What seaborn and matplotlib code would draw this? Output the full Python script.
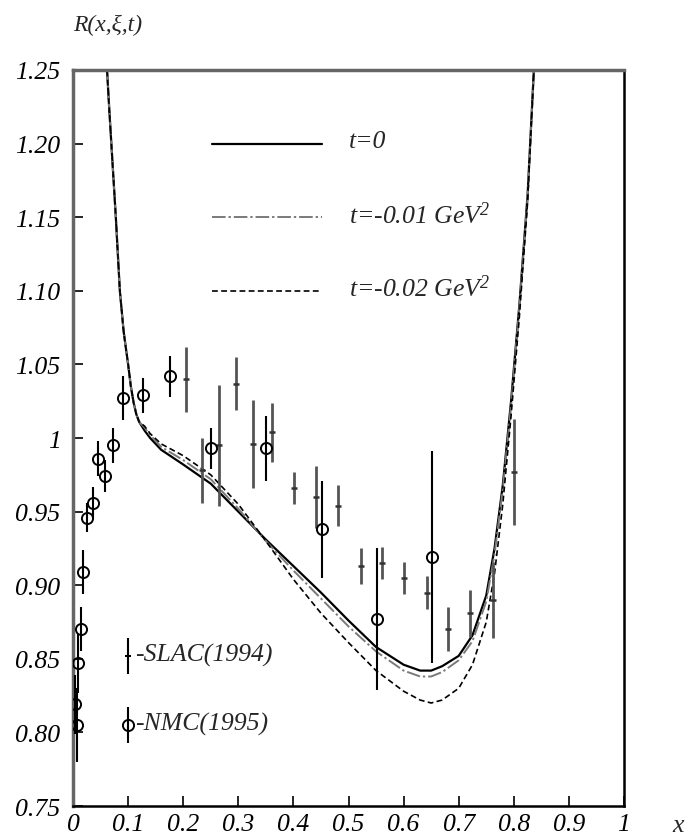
import matplotlib
matplotlib.use("Agg")
import matplotlib.pyplot as plt
import numpy as np
import pandas as pd
import seaborn as sns

# ---- model curves R(x, xi, t) ----
x_curve = [0.060, 0.066, 0.072, 0.078, 0.085, 0.092, 0.100, 0.105, 0.110, 0.115,
           0.120, 0.130, 0.140, 0.160, 0.200, 0.250, 0.300, 0.350, 0.400, 0.450,
           0.500, 0.550, 0.600, 0.630, 0.650, 0.670, 0.700, 0.725, 0.750, 0.765,
           0.780, 0.795, 0.810, 0.825, 0.838]
R_t0 = [1.262, 1.222, 1.185, 1.148, 1.100, 1.072, 1.050, 1.035, 1.024, 1.016,
        1.011, 1.005, 1.000, 0.992, 0.982, 0.969, 0.950, 0.931, 0.913, 0.895,
        0.876, 0.858, 0.846, 0.842, 0.842, 0.845, 0.852, 0.866, 0.893, 0.925,
        0.968, 1.025, 1.090, 1.165, 1.262]
R_t001 = [1.262, 1.222, 1.185, 1.148, 1.100, 1.072, 1.050, 1.035, 1.024, 1.016,
          1.011, 1.007, 1.002, 0.994, 0.985, 0.972, 0.952, 0.930, 0.910, 0.891,
          0.872, 0.855, 0.842, 0.838, 0.838, 0.841, 0.849, 0.862, 0.889, 0.921,
          0.965, 1.022, 1.088, 1.163, 1.262]
R_t002 = [1.262, 1.222, 1.185, 1.148, 1.100, 1.072, 1.050, 1.035, 1.024, 1.016,
          1.011, 1.008, 1.003, 0.996, 0.988, 0.975, 0.955, 0.930, 0.904, 0.881,
          0.861, 0.842, 0.828, 0.822, 0.820, 0.822, 0.830, 0.846, 0.875, 0.908,
          0.955, 1.015, 1.082, 1.160, 1.262]

# ---- SLAC (1994) ----
slac_x = [0.205, 0.235, 0.265, 0.296, 0.327, 0.362, 0.401, 0.441, 0.481, 0.523,
          0.561, 0.600, 0.643, 0.681, 0.720, 0.762, 0.800]
slac_R = [1.040, 0.978, 0.995, 1.037, 0.996, 1.004, 0.966, 0.960, 0.954, 0.913,
          0.915, 0.905, 0.895, 0.870, 0.881, 0.890, 0.977]
slac_err = [0.022, 0.022, 0.041, 0.018, 0.030, 0.020, 0.011, 0.021, 0.014, 0.012,
            0.011, 0.011, 0.011, 0.015, 0.016, 0.026, 0.036]

# ---- NMC (1995) ----
nmc_x = [0.008, 0.004, 0.009, 0.014, 0.018, 0.025, 0.037, 0.046, 0.058, 0.072,
         0.090, 0.127, 0.176, 0.250, 0.350, 0.452, 0.551, 0.651]
nmc_R = [0.805, 0.819, 0.847, 0.870, 0.909, 0.946, 0.956, 0.986, 0.974, 0.995,
         1.027, 1.029, 1.042, 0.993, 0.993, 0.938, 0.877, 0.919]
nmc_err = [0.025, 0.020, 0.020, 0.015, 0.015, 0.010, 0.011, 0.012, 0.011, 0.012,
           0.015, 0.012, 0.014, 0.014, 0.022, 0.033, 0.048, 0.072]

y_ticks = [0.75, 0.80, 0.85, 0.90, 0.95, 1.00, 1.05, 1.10, 1.15, 1.20, 1.25]
y_ticklabels = ["0.75", "0.80", "0.85", "0.90", "0.95", "1", "1.05", "1.10",
                "1.15", "1.20", "1.25"]
x_ticks = [0, 0.1, 0.2, 0.3, 0.4, 0.5, 0.6, 0.7, 0.8, 0.9, 1.0]
x_ticklabels = ["0", "0.1", "0.2", "0.3", "0.4", "0.5", "0.6", "0.7", "0.8",
                "0.9", "1"]

curve_labels = ["t=0", "t=-0.01 GeV$^{2}$", "t=-0.02 GeV$^{2}$"]

FS = 18.5

sns.set_theme(style="ticks")
plt.rcParams["font.family"] = ["Liberation Serif", "DejaVu Serif"]
plt.rcParams["font.style"] = "italic"
plt.rcParams["mathtext.fontset"] = "custom"
plt.rcParams["mathtext.rm"] = "Liberation Serif:italic"
plt.rcParams["mathtext.it"] = "Liberation Serif:italic"

fig = plt.figure(figsize=(6.98, 8.37), dpi=100)
ax = fig.add_axes([0.1046, 0.0358, 0.7894, 0.8794])

df = pd.DataFrame({"x": x_curve, "t0": R_t0, "t1": R_t001, "t2": R_t002})

styles = [
    ("t0", "black", 1.6, "-"),
    ("t1", "#7a7a7a", 1.4, (0, (7, 1.5, 1.2, 1.5))),
    ("t2", "black", 1.2, (0, (3.5, 2.0))),
]
for col, color, lw, ls in styles:
    sns.lineplot(data=df, x="x", y=col, ax=ax, color=color, linewidth=lw,
                 linestyle=ls, sort=False, estimator=None)

# experimental points
ax.errorbar(slac_x, slac_R, yerr=slac_err, fmt="_", color="#333333",
            ecolor="#555555", elinewidth=2.0, markersize=5, mew=1.8,
            capsize=0, zorder=4)
ax.errorbar(nmc_x, nmc_R, yerr=nmc_err, fmt="o", mfc="none", mec="black",
            ecolor="black", elinewidth=1.5, markersize=8, mew=1.4,
            capsize=0, zorder=5)

# legend for the model curves
key_x = [0.252, 0.452]
for (col, color, lw, ls), label, yk in zip(styles, curve_labels,
                                          [1.20, 1.15, 1.10]):
    ax.plot(key_x, [yk, yk], color=color, linewidth=lw, linestyle=ls)
    ax.text(0.50, yk + 0.002, label, fontsize=FS, va="center", ha="left")

# legend for the data
ax.errorbar([0.1], [0.852], yerr=[0.012], fmt="_", color="black",
            ecolor="black", elinewidth=1.5, markersize=5, mew=1.5, capsize=0)
ax.text(0.113, 0.853, "-SLAC(1994)", fontsize=FS, va="center", ha="left")
ax.errorbar([0.1], [0.805], yerr=[0.012], fmt="o", mfc="none", mec="black",
            ecolor="black", elinewidth=1.5, markersize=8, mew=1.4, capsize=0)
ax.text(0.113, 0.806, "-NMC(1995)", fontsize=FS, va="center", ha="left")

ax.set_xlim(0, 1)
ax.set_ylim(0.75, 1.25)
ax.set_xticks(x_ticks)
ax.set_xticklabels(x_ticklabels)
ax.set_yticks(y_ticks)
ax.set_yticklabels(y_ticklabels)
ax.tick_params(axis="both", direction="in", length=7, width=1.2,
               labelsize=FS, colors="black")
ax.tick_params(axis="y", pad=9)
ax.tick_params(axis="x", pad=5)
ax.set_xlabel("")
ax.set_ylabel("")
for side in ["left", "top"]:
    ax.spines[side].set_color("#666666")
    ax.spines[side].set_linewidth(2.5)
for side in ["right", "bottom"]:
    ax.spines[side].set_visible(True)
    ax.spines[side].set_color("black")
    ax.spines[side].set_linewidth(1.8)

fig.text(73 / 698, 1 - 25 / 837, "R(x,ξ,t)", fontsize=17, ha="left",
         va="center")
fig.text(678 / 698, 1 - 826 / 837, "x", fontsize=FS, ha="center",
         va="center")

fig.savefig("out.png", dpi=100)
